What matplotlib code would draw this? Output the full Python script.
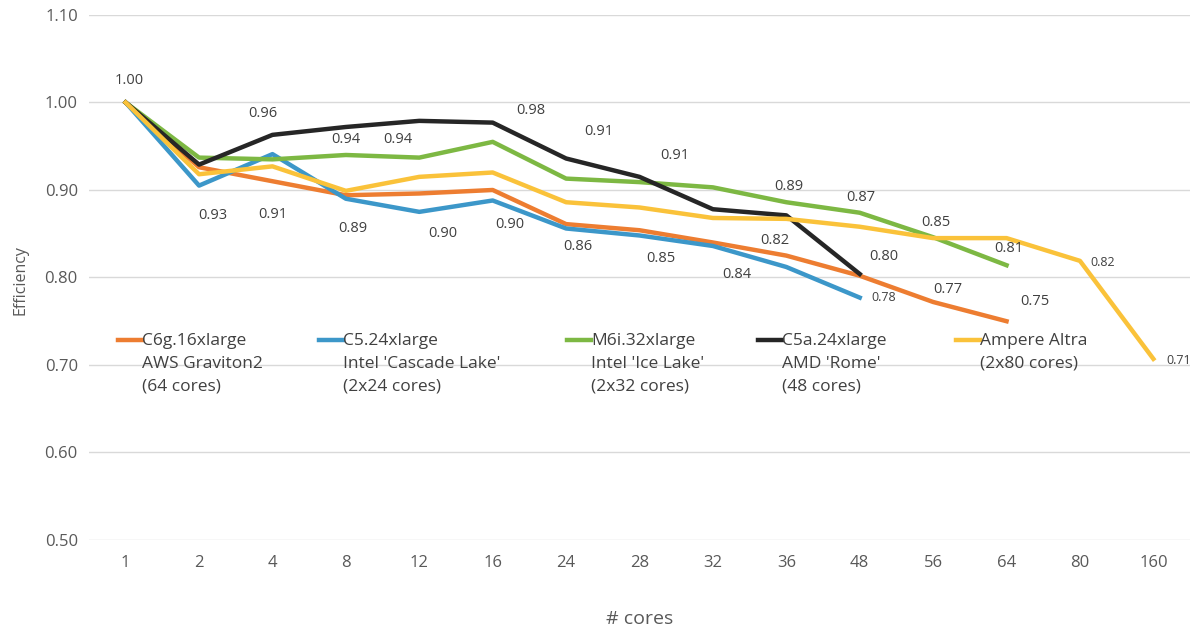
import numpy as np
import matplotlib
matplotlib.use("Agg")
import matplotlib.pyplot as plt

cores = ["1", "2", "4", "8", "12", "16", "24", "28", "32", "36", "48", "56", "64", "80", "160"]

c6g = [1.00, 0.926, 0.910, 0.894, 0.896, 0.900, 0.861, 0.854, 0.840, 0.825, 0.802, 0.772, 0.750]
c5 = [1.00, 0.905, 0.941, 0.890, 0.875, 0.888, 0.856, 0.848, 0.836, 0.812, 0.777]
m6i = [1.00, 0.937, 0.935, 0.940, 0.937, 0.955, 0.913, 0.909, 0.903, 0.886, 0.874, 0.846, 0.814]
c5a = [1.00, 0.929, 0.963, 0.972, 0.979, 0.977, 0.936, 0.915, 0.878, 0.871, 0.804]
altra = [1.00, 0.918, 0.927, 0.899, 0.915, 0.920, 0.886, 0.880, 0.868, 0.867, 0.858, 0.845, 0.845, 0.819, 0.707]

names = ["C6g.16xlarge\nAWS Graviton2\n(64 cores)",
         "C5.24xlarge\nIntel 'Cascade Lake'\n(2x24 cores)",
         "M6i.32xlarge\nIntel 'Ice Lake'\n(2x32 cores)",
         "C5a.24xlarge\nAMD 'Rome'\n(48 cores)",
         "Ampere Altra\n(2x80 cores)"]
colors = ["#ED7D31", "#3C97C9", "#7DB843", "#262626", "#FAC23A"]
series = [c6g, c5, m6i, c5a, altra]

# left edge (px) of each legend entry
leg_x = [118, 319, 567, 758, 956]

# value labels: (series index, category index, offset in px, font size)
labels = [
    (4, 0, (4, 22), 10.5),
    (3, 2, (-10, 21), 10.5),
    (2, 3, (0, 15), 10.5),
    (2, 4, (-21, 18), 10.5),
    (3, 5, (38, 12), 10.5),
    (2, 6, (33, 47), 10.5),
    (2, 7, (35, 27), 10.5),
    (2, 9, (2, 16), 10.5),
    (2, 10, (1, 15), 10.5),
    (2, 11, (3, 15), 10.5),
    (2, 12, (2, 17), 10.5),
    (4, 13, (23, -2), 9),
    (4, 14, (25, -2), 9),
    (1, 10, (24, 0), 9),
    (0, 1, (14, -48), 10.5),
    (0, 2, (0, -33), 10.5),
    (0, 3, (7, -33), 10.5),
    (0, 4, (24, -40), 10.5),
    (0, 5, (17, -35), 10.5),
    (0, 6, (12, -22), 10.5),
    (0, 7, (21, -28), 10.5),
    (0, 8, (24, -32), 10.5),
    (0, 9, (-12, 15), 10.5),
    (0, 10, (24, 19), 10.5),
    (0, 11, (15, 12), 10.5),
    (0, 12, (28, 20), 10.5),
]

plt.rcParams['font.family'] = ['Open Sans', 'DejaVu Sans']
W, H = 1194, 630
fig = plt.figure(figsize=(W / 100, H / 100), dpi=100)
ax = fig.add_axes([0.0745, 0.1429, 0.9222, 0.8333])

x = np.arange(len(cores))
lines = []
for vals, name, col in zip(series, names, colors):
    ln, = ax.plot(x[:len(vals)], vals, color=col, lw=3.2, label=name, solid_joinstyle="round")
    lines.append(ln)

for si, ci, off, fs in labels:
    v = series[si][ci]
    ax.annotate(f"{v:.2f}", (x[ci], v), xytext=off, textcoords="offset pixels",
                ha="center", va="center", fontsize=fs, color="#404040")

ax.set_xlim(-0.5, len(cores) - 0.5)
ax.set_ylim(0.5, 1.1)
yt = np.arange(0.5, 1.101, 0.1)
ax.set_yticks(yt)
ax.set_yticklabels([f"{t:.2f}" for t in yt])
ax.set_xticks(x)
ax.set_xticklabels(cores)
ax.tick_params(length=0, labelsize=12, labelcolor="#595959", pad=11)
ax.tick_params(axis="y", pad=8)
ax.grid(axis="y", color="#d9d9d9", lw=1)
ax.set_axisbelow(True)
for s in ax.spines.values():
    s.set_visible(False)

ax.set_xlabel("# cores", fontsize=14, color="#595959", labelpad=28)
fig.text(20 / W, 1 - 280 / H, "Efficiency", rotation=90, ha="center", va="center",
         fontsize=11.5, color="#595959")

# one legend per series so each entry sits at its own spot
for ln, lx in zip(lines, leg_x):
    leg = fig.legend(handles=[ln], loc="upper left", bbox_to_anchor=(lx / W, 1 - 333 / H),
                     bbox_transform=fig.transFigure, frameon=False, borderpad=0,
                     borderaxespad=0, handlelength=1.4, handleheight=1.0, handletextpad=0.0,
                     prop={"size": 12.5})
    for t in leg.get_texts():
        t.set_color("#404040")
        t.set_linespacing(1.55)
    # put the handle next to the first line of the label
    for col in leg._legend_handle_box.get_children():
        for row in col.get_children():
            row.align = "top"

fig.savefig("out.png", dpi=100)
